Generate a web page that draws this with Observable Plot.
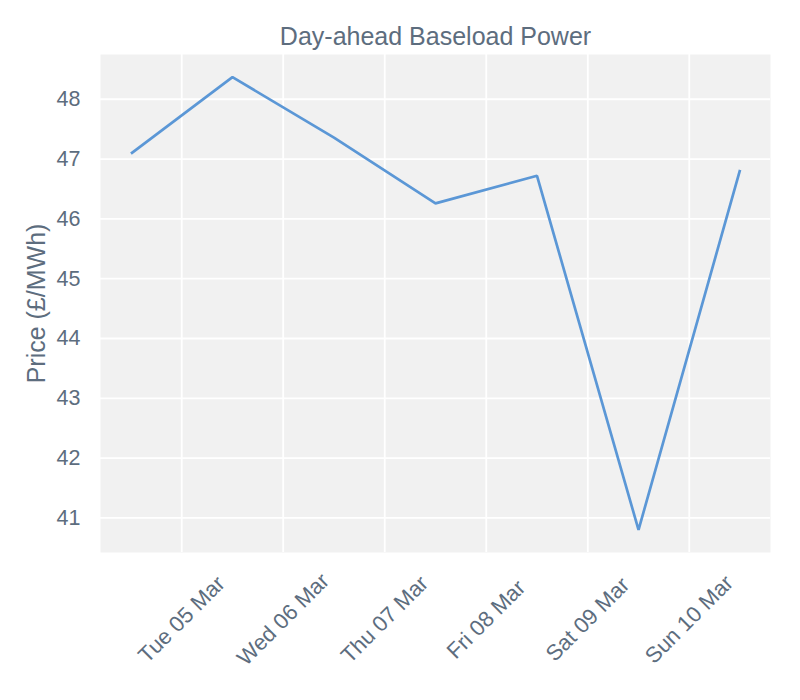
<!DOCTYPE html>
<html>
<head>
<meta charset="utf-8">
<script src="https://cdn.jsdelivr.net/npm/d3@7"></script>
<script src="https://cdn.jsdelivr.net/npm/@observablehq/plot@0.6"></script>
<style>
  body { margin: 0; background: #ffffff; }
  #chart { width: 800px; height: 700px; }
</style>
</head>
<body>
<div id="chart"></div>
<script>
const title = "Day-ahead Baseload Power";
const yLabel = "Price (£/MWh)";
const dates = ["2019-03-04T12:00Z", "2019-03-05T12:00Z", "2019-03-06T12:00Z", "2019-03-07T12:00Z", "2019-03-08T12:00Z", "2019-03-09T12:00Z", "2019-03-10T12:00Z"];
const prices = [47.09, 48.37, 47.36, 46.26, 46.72, 40.8, 46.82];
const xTicks = ["2019-03-05T00:00Z", "2019-03-06T00:00Z", "2019-03-07T00:00Z", "2019-03-08T00:00Z", "2019-03-09T00:00Z", "2019-03-10T00:00Z"];
const yTicks = [41, 42, 43, 44, 45, 46, 47, 48];

const data = dates.map((d, i) => ({date: new Date(d), price: prices[i]}));
const tickDates = xTicks.map(d => new Date(d));

// matplotlib-style 5% margins
const t0 = +data[0].date, t1 = +data[data.length - 1].date;
const tPad = (t1 - t0) * 0.05;
const pMin = d3.min(prices), pMax = d3.max(prices);
const pPad = (pMax - pMin) * 0.05;

const textColor = "#5d6d7e";
const fmt = d3.utcFormat("%a %d %b");

const chart = Plot.plot({
  width: 800,
  height: 700,
  marginLeft: 100,
  marginRight: 30,
  marginTop: 54,
  marginBottom: 148,
  style: {fontFamily: "'Liberation Sans', Arial, sans-serif", color: textColor, background: "#ffffff"},
  x: {type: "utc", domain: [new Date(t0 - tPad), new Date(t1 + tPad)]},
  y: {domain: [pMin - pPad, pMax + pPad]},
  marks: [
    Plot.frame({fill: "#f1f1f1", stroke: null}),
    Plot.gridX(tickDates, {stroke: "#ffffff", strokeOpacity: 1, strokeWidth: 1.8}),
    Plot.gridY(yTicks, {stroke: "#ffffff", strokeOpacity: 1, strokeWidth: 1.8}),
    Plot.axisY(yTicks, {
      tickSize: 0,
      tickPadding: 20,
      tickFormat: d => String(d),
      fontSize: 21.5,
      fill: textColor,
      label: yLabel,
      labelAnchor: "center",
      labelArrow: "none",
      labelOffset: 73
    }),
    Plot.axisX(tickDates, {
      tickSize: 0,
      tickRotate: -45,
      textAnchor: "middle",
      lineAnchor: "middle",
      tickPadding: 67,
      tickFormat: fmt,
      fontSize: 22,
      fill: textColor,
      label: null
    }),
    Plot.line(data, {x: "date", y: "price", stroke: "#5b97d6", strokeWidth: 2.7, strokeLinejoin: "miter", strokeLinecap: "butt"}),
    Plot.text([title], {frameAnchor: "top", dy: -18, fontSize: 25, fill: textColor, lineAnchor: "middle"})
  ]
});

// enlarge y-axis label font to match the reference
chart.querySelectorAll("g[aria-label='y-axis label'] text").forEach(t => t.setAttribute("font-size", 25));
document.getElementById("chart").appendChild(chart);
</script>
</body>
</html>
